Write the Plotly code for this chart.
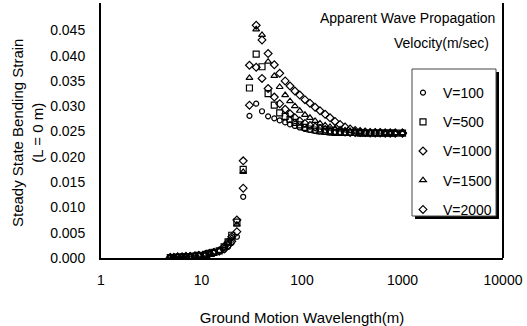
import plotly.graph_objects as go

# Ground motion wavelength (m)
wavelength = [4.9, 5.3, 5.8, 6.4, 7.0, 7.7, 8.6, 9.4, 11, 12, 13.3, 15, 16.8, 18.4, 20, 22.5,
              26, 30, 35, 40, 46, 53, 60, 68, 76, 85, 95, 107, 120,
              135, 151, 170, 190, 213, 239, 268, 301, 338, 379, 425, 477, 535, 600, 673, 755, 847, 1000]

low = [0.0001, 0.0001, 0.0002, 0.0002, 0.0003, 0.0003, 0.0004, 0.0005, 0.0007, 0.0009, 0.0011, 0.0014]

v100 = low + [0.0016, 0.0022, 0.0030, 0.0042,
              0.0121, 0.0281, 0.0305, 0.0290, 0.0280, 0.0276, 0.0272, 0.0268, 0.0264, 0.0261, 0.0258, 0.0255, 0.0253,
              0.0251, 0.0250, 0.0249, 0.0248, 0.0248, 0.0248, 0.0248, 0.0248, 0.0247, 0.0247, 0.0247, 0.0247,
              0.0247, 0.0247, 0.0247, 0.0247, 0.0247, 0.0247]
v500 = low + [0.0022, 0.0032, 0.0045, 0.0071,
              0.0175, 0.0336, 0.0403, 0.0378, 0.0325, 0.0302, 0.0287, 0.0280, 0.0274, 0.0268, 0.0263, 0.0258, 0.0255,
              0.0253, 0.0251, 0.0250, 0.0249, 0.0248, 0.0248, 0.0248, 0.0248, 0.0248, 0.0247, 0.0247, 0.0247,
              0.0247, 0.0247, 0.0247, 0.0247, 0.0247, 0.0247]
v1000 = low + [0.0018, 0.0025, 0.0033, 0.0052,
               0.0138, 0.0302, 0.0377, 0.0355, 0.0335, 0.0318, 0.0305, 0.0294, 0.0285, 0.0277, 0.0271, 0.0266, 0.0262,
               0.0259, 0.0256, 0.0254, 0.0252, 0.0251, 0.0250, 0.0249, 0.0248, 0.0248, 0.0248, 0.0248, 0.0247,
               0.0247, 0.0247, 0.0247, 0.0247, 0.0247, 0.0247]
v1500 = low + [0.0021, 0.0030, 0.0040, 0.0066,
               0.0170, 0.0356, 0.0452, 0.0441, 0.0388, 0.0360, 0.0338, 0.0322, 0.0310, 0.0300, 0.0291, 0.0283, 0.0277,
               0.0271, 0.0266, 0.0262, 0.0259, 0.0256, 0.0254, 0.0252, 0.0251, 0.0250, 0.0249, 0.0248, 0.0248,
               0.0248, 0.0248, 0.0247, 0.0247, 0.0247, 0.0247]
v2000 = low + [0.0022, 0.0031, 0.0042, 0.0075,
               0.0192, 0.0381, 0.0460, 0.0431, 0.0404, 0.0382, 0.0365, 0.0350, 0.0340, 0.0330, 0.0322, 0.0313, 0.0306,
               0.0298, 0.0291, 0.0284, 0.0277, 0.0270, 0.0264, 0.0259, 0.0255, 0.0252, 0.0250, 0.0249, 0.0248,
               0.0248, 0.0248, 0.0247, 0.0247, 0.0247, 0.0247]

series_names = ["V=100", "V=500", "V=1000", "V=1500", "V=2000"]
series_values = [v100, v500, v1000, v1500, v2000]
symbols = ["circle-open", "square-open", "diamond-open", "triangle-up-open", "diamond-open"]
sizes = [5, 6, 6, 6, 6]

y_ticks = [0.000, 0.005, 0.010, 0.015, 0.020, 0.025, 0.030, 0.035, 0.040, 0.045]
x_ticks = [1, 10, 100, 1000, 10000]

FONT = "Liberation Sans, Arial, sans-serif"

fig = go.Figure()
for name, vals, sym, sz in zip(series_names, series_values, symbols, sizes):
    fig.add_trace(go.Scatter(
        x=wavelength, y=vals, mode="markers", name=name, legendgroup=name,
        marker=dict(symbol=sym, size=sz, color="black", line=dict(color="black", width=1.2)),
    ))

L, R, T, B = 101, 503, 3, 258
W, H = 527, 326

def px_to_paper_x(px):
    return (px - L) / (R - L)

def px_to_paper_y(py):
    return (B - py) / (B - T)

fig.update_layout(
    width=W, height=H,
    margin=dict(l=L, r=W - R, t=T, b=H - B),
    paper_bgcolor="white", plot_bgcolor="white",
    font=dict(family=FONT, size=14, color="black"),
    showlegend=True,
    legend=dict(
        x=px_to_paper_x(403), y=px_to_paper_y(77), xanchor="left", yanchor="top",
        bgcolor="rgba(0,0,0,0)", borderwidth=0,
        font=dict(family=FONT, size=14, color="black"),
        tracegroupgap=8, itemwidth=30,
    ),
    xaxis=dict(
        type="log", range=[0, 4], tickvals=x_ticks, ticktext=[str(v) for v in x_ticks],
        showgrid=False, zeroline=False, showline=True, linecolor="black", linewidth=2,
        ticks="", ticklabelstandoff=8, mirror=False,
        title=dict(text="Ground Motion Wavelength(m)", standoff=26, font=dict(family=FONT, size=15)),
    ),
    yaxis=dict(
        range=[0, 0.0504], tickvals=y_ticks, ticktext=[f"{v:.3f}" for v in y_ticks],
        showgrid=False, zeroline=False, showline=True, linecolor="black", linewidth=2,
        ticks="", ticklabelstandoff=11,
    ),
    shapes=[
        # right border of plot area
        dict(type="line", xref="paper", yref="paper", x0=1, x1=1, y0=0, y1=1,
             line=dict(color="black", width=2)),
        # legend shadow
        dict(type="rect", xref="paper", yref="paper",
             x0=px_to_paper_x(415), x1=px_to_paper_x(499),
             y0=px_to_paper_y(219), y1=px_to_paper_y(72),
             fillcolor="black", line=dict(width=0), layer="above"),
        # legend box
        dict(type="rect", xref="paper", yref="paper",
             x0=px_to_paper_x(412), x1=px_to_paper_x(496),
             y0=px_to_paper_y(216), y1=px_to_paper_y(69),
             fillcolor="white", line=dict(color="#444", width=1), layer="above"),
    ],
    annotations=[
        dict(text="Apparent Wave Propagation", xref="paper", yref="paper",
             x=px_to_paper_x(497), y=px_to_paper_y(18), xanchor="right", yanchor="middle",
             showarrow=False, font=dict(family=FONT, size=14)),
        dict(text="Velocity(m/sec)", xref="paper", yref="paper",
             x=px_to_paper_x(491), y=px_to_paper_y(43), xanchor="right", yanchor="middle",
             showarrow=False, font=dict(family=FONT, size=14)),
        dict(text="Steady State Bending Strain<br>(L = 0 m)", xref="paper", yref="paper",
             x=0, y=px_to_paper_y(133), xanchor="center", yanchor="middle", xshift=27 - L,
             textangle=-90, showarrow=False, font=dict(family=FONT, size=15)),
    ],
)

fig.write_html("out.html", config={"displayModeBar": False},
               post_script="document.body.style.margin='0';document.body.style.padding='0';")
